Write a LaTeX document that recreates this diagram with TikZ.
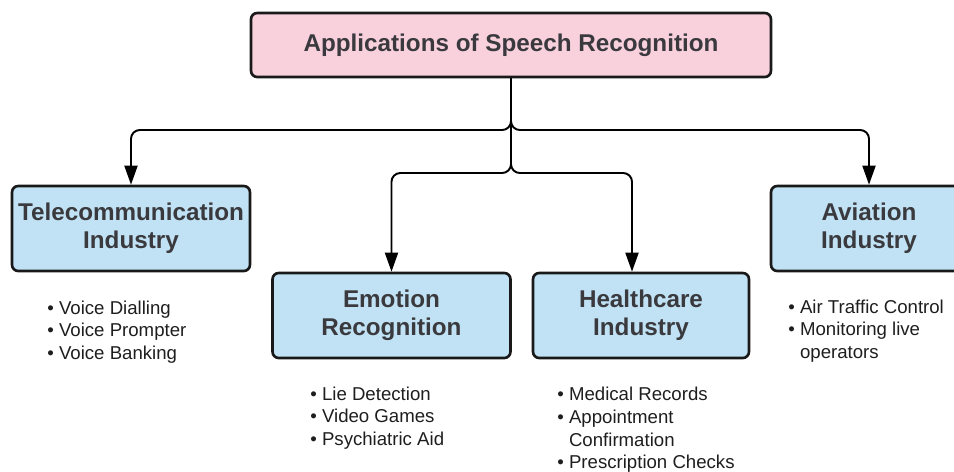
\documentclass[tikz,border=0pt]{standalone}
\usepackage{fontspec}
\setmainfont{Liberation Sans}
\usetikzlibrary{arrows.meta,positioning}
\definecolor{rootcolor}{RGB}{248,209,221}
\definecolor{appcolor}{RGB}{192,226,244}
\definecolor{titletext}{RGB}{58,58,62}
\definecolor{listtext}{RGB}{30,30,30}

\begin{document}
\begin{tikzpicture}[
    x=0.02cm, y=-0.02cm,
    every node/.style={font=\fontsize{10.6}{12.9}\selectfont},
    box/.style={rectangle, rounded corners=3.5pt, draw=black!90, line width=1.5pt, align=center, text=titletext, font=\bfseries\fontsize{13.8}{15.9}\selectfont, minimum width=4.76cm, minimum height=1.7cm, inner sep=0pt},
    rootbox/.style={box, fill=rootcolor, minimum width=10.4cm, minimum height=1.28cm},
    appbox/.style={box, fill=appcolor},
    items/.style={align=left, anchor=west, inner sep=0pt, text=listtext},
    arrow/.style={-{Triangle[length=0.38cm, width=0.26cm]}, line width=1.1pt, rounded corners=5pt}
]
\useasboundingbox (0,0) rectangle (954,471);
\clip (0,0) rectangle (954,471);

% Top: root of the tree
\node[rootbox] (root) at (511,45) {Applications of Speech Recognition};

% First row
\node[appbox] (tele) at (131,228.5) {Telecommunication\\Industry};
\node[appbox, minimum width=3.92cm] (avia) at (869,228.5) {Aviation\\Industry};

% Second row
\node[appbox] (emo) at (391.5,315.5) {Emotion\\Recognition};
\node[appbox, minimum width=4.32cm] (health) at (641,315.5) {Healthcare\\Industry};

% Item lists
\node[items] (telelist) at (47,332) {\textbullet\ Voice Dialling\\\textbullet\ Voice Prompter\\\textbullet\ Voice Banking};
\node[items] (emolist) at (310,418) {\textbullet\ Lie Detection\\\textbullet\ Video Games\\\textbullet\ Psychiatric Aid};
\node[items] (healthlist) at (557,430) {\textbullet\ Medical Records\\\textbullet\ Appointment\\\phantom{\textbullet\ }Confirmation\\\textbullet\ Prescription Checks};
\node[items] (avialist) at (788,331) {\textbullet\ Air Traffic Control\\\textbullet\ Monitoring live\\\phantom{\textbullet\ }operators};

% Branch points
\coordinate (split1) at (511,130);
\coordinate (split2) at (511,173);

% Connectors
\draw[arrow] (root.south) -- (split1) -| (tele.north);
\draw[arrow] (root.south) -- (split1) -| (avia.north);
\draw[arrow] (root.south) -- (split2) -| (emo.north);
\draw[arrow] (root.south) -- (split2) -| ([xshift=-0.18cm]health.north);

\end{tikzpicture}
\end{document}
